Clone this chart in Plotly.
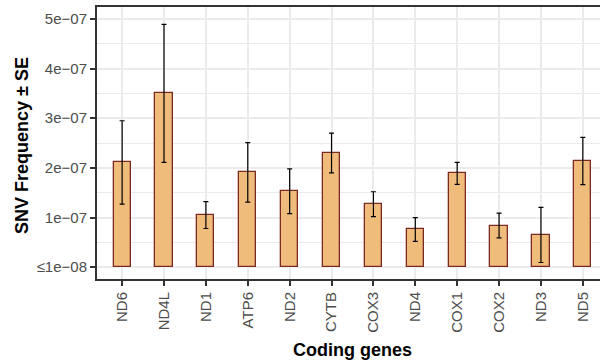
import plotly.graph_objects as go

genes = ["ND6", "ND4L", "ND1", "ATP6", "ND2", "CYTB", "COX3", "ND4", "COX1", "COX2", "ND3", "ND5"]
freq = [2.11e-07, 3.50e-07, 1.05e-07, 1.91e-07, 1.53e-07, 2.30e-07, 1.27e-07, 0.76e-07, 1.89e-07, 0.84e-07, 0.65e-07, 2.14e-07]
se = [0.84e-07, 1.39e-07, 0.27e-07, 0.60e-07, 0.45e-07, 0.40e-07, 0.25e-07, 0.24e-07, 0.22e-07, 0.25e-07, 0.555e-07, 0.475e-07]
ytick_vals = [0, 1e-07, 2e-07, 3e-07, 4e-07, 5e-07]
ytick_text = ["≤1e−08", "1e−07", "2e−07", "3e−07", "4e−07", "5e−07"]

FONT = "Liberation Sans, Arial, sans-serif"

fig = go.Figure()
fig.add_trace(go.Bar(
    x=list(range(len(genes))), y=freq, width=0.41,
    marker=dict(color="#F0BC7C", line=dict(color="#7A2A22", width=1.3)),
    error_y=dict(type="data", array=se, visible=True, color="black", thickness=1.2, width=2.5),
    showlegend=False,
))

pl, pr, pt, pb = 97, 600, 7, 364 - 85

fig.update_layout(
    width=600, height=364,
    margin=dict(l=pl, r=600 - pr, t=pt, b=364 - pb),
    plot_bgcolor="white", paper_bgcolor="white",
    font=dict(family=FONT, color="#4D4D4D"),
    bargap=0,
    xaxis=dict(
        range=[-0.6, 11.41],
        tickvals=list(range(len(genes))), ticktext=genes,
        tickangle=-90, tickfont=dict(size=15, color="#4D4D4D"),
        showgrid=True, gridcolor="#EBEBEB", gridwidth=1.5,
        showline=True, linecolor="#333333", linewidth=2, mirror=True,
        ticks="outside", ticklen=5, tickwidth=2, tickcolor="#333333",
        zeroline=False,
    ),
    yaxis=dict(
        range=[-2.37e-08, 5.24e-07],
        tickvals=ytick_vals, ticktext=ytick_text,
        tickfont=dict(size=15, color="#4D4D4D"),
        showgrid=True, gridcolor="#EBEBEB", gridwidth=1.5,
        minor=dict(tickvals=[0.5e-07, 1.5e-07, 2.5e-07, 3.5e-07, 4.5e-07], showgrid=True,
                   gridcolor="#EBEBEB", gridwidth=0.8),
        showline=True, linecolor="#333333", linewidth=2, mirror=False,
        ticks="outside", ticklen=5, tickwidth=2, tickcolor="#333333",
        zeroline=False,
    ),
    annotations=[
        dict(text="<b>Coding genes</b>", xref="paper", yref="paper",
             x=(352 - pl) / (pr - pl), y=(pb - 350) / (pb - pt),
             xanchor="center", yanchor="middle",
             showarrow=False, font=dict(size=18, color="black", family=FONT)),
        dict(text="<b>SNV Frequency ± SE</b>", xref="paper", yref="paper",
             x=(22 - pl) / (pr - pl), y=(pb - 146) / (pb - pt),
             xanchor="center", yanchor="middle", textangle=-90,
             showarrow=False, font=dict(size=18, color="black", family=FONT)),
    ],
)

fig.write_html("out.html")
